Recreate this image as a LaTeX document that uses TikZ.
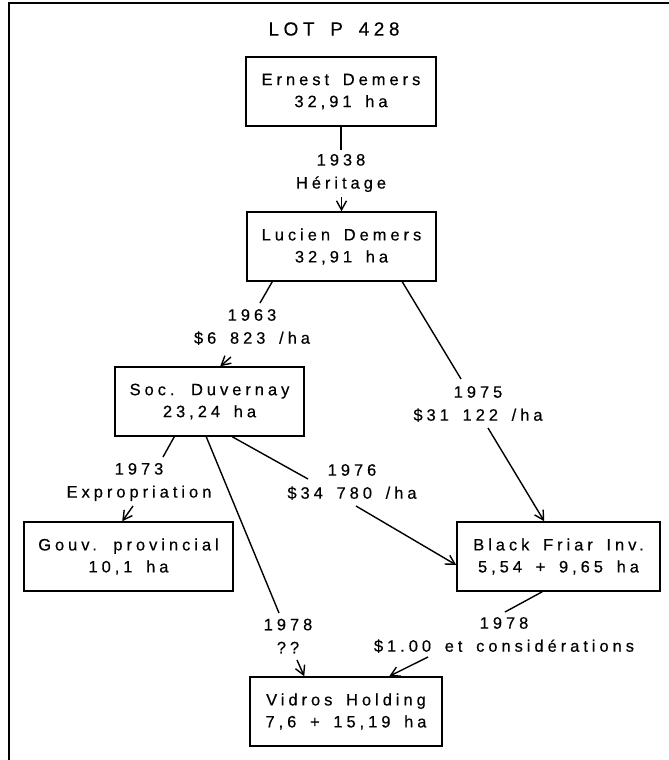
\documentclass[tikz,border=0pt]{standalone}
\usepackage{fontspec}
\setmainfont{Liberation Sans}[LetterSpace=24,WordSpace=1.6,FakeBold=0.4]
\usetikzlibrary{arrows.meta,calc}
\begin{document}
\begin{tikzpicture}[x=1pt,y=-1pt,
  box/.style={draw, line width=1.5pt, minimum width=#1, minimum height=69pt, align=center, inner sep=0pt, font=\fontsize{16.5}{22}\selectfont},
  lab/.style={align=center, inner sep=1pt, font=\fontsize{16.5}{23}\selectfont},
  conn/.style={line width=1.4pt},
  arr/.style={line width=1.4pt, -{Straight Barb[length=9pt,width=10pt]}}]
\useasboundingbox (0,0) rectangle (669,760);
% frame (top and left only)
\draw[line width=1.8pt] (669,3) -- (9,3) -- (9,760);
% title
\node[font=\fontsize{19}{22}\selectfont] (title) at (334,29) {LOT P 428};
% boxes
\node[box=190pt] (ernest) at (341,91.5) {Ernest Demers\\32,91 ha};
\node[box=189pt] (lucien) at (341.5,246.5) {Lucien Demers\\32,91 ha};
\node[box=189pt] (soc) at (209.5,401.5) {Soc. Duvernay\\23,24 ha};
\node[box=209pt] (gouv) at (128.5,556.5) {Gouv. provincial\\10,1 ha};
\node[box=203pt] (bf) at (558.5,556.5) {Black Friar Inv.\\5,54 + 9,65 ha};
\node[box=192pt] (vidros) at (346,711.5) {Vidros Holding\\7,6 + 15,19 ha};
% labels
\node[lab] (l1938) at (341,173) {1938\\Héritage};
\node[lab] (l1963) at (252,327) {1963\\\$6 823 /ha};
\node[lab] (l1975) at (478,404) {1975\\\$31 122 /ha};
\node[lab] (l1973) at (139,482) {1973\\Expropriation};
\node[lab] (l1976) at (352,482) {1976\\\$34 780 /ha};
\node[lab] (l1978a) at (288,636) {1978\\??};
\node[lab] (l1978b) at (504,635) {1978\\\$1.00 et considérations};
% free ends near labels
\coordinate (c1) at (341,150);
\coordinate (a1) at (341.5,197);
\coordinate (c2) at (260,303);
\coordinate (a2) at (231,357);
\coordinate (c3) at (461,379);
\coordinate (a3) at (488,428);
\coordinate (c4) at (163,457);
\coordinate (a4) at (133,506);
\coordinate (c5) at (279,613);
\coordinate (a5) at (297,660);
\coordinate (c6) at (308,479);
\coordinate (a6) at (356,506);
\coordinate (c7) at (505,612);
\coordinate (a7) at (428,657);
% connectors
\draw[conn] (ernest.south) -- (c1);
\draw[arr] (a1) -- (lucien.north);
\draw[conn] ($(lucien.south west)+(26,0)$) -- (c2);
\draw[arr] (a2) -- ($(soc.north west)+(106,0)$);
\draw[conn] ($(lucien.south west)+(156,0)$) -- (c3);
\draw[arr] (a3) -- ($(bf.north west)+(88,0)$);
\draw[conn] ($(soc.south west)+(60,0)$) -- (c4);
\draw[arr] (a4) -- ($(gouv.north west)+(99,0)$);
\draw[conn] ($(soc.south west)+(92,0)$) -- (c5);
\draw[arr] (a5) -- ($(vidros.north west)+(55,0)$);
\draw[conn] ($(soc.south west)+(118,0)$) -- (c6);
\draw[arr] (a6) -- ($(bf.west)+(0,8.5)$);
\draw[conn] ($(bf.south west)+(86,0)$) -- (c7);
\draw[arr] (a7) -- ($(vidros.north west)+(140,0)$);
\end{tikzpicture}
\end{document}
